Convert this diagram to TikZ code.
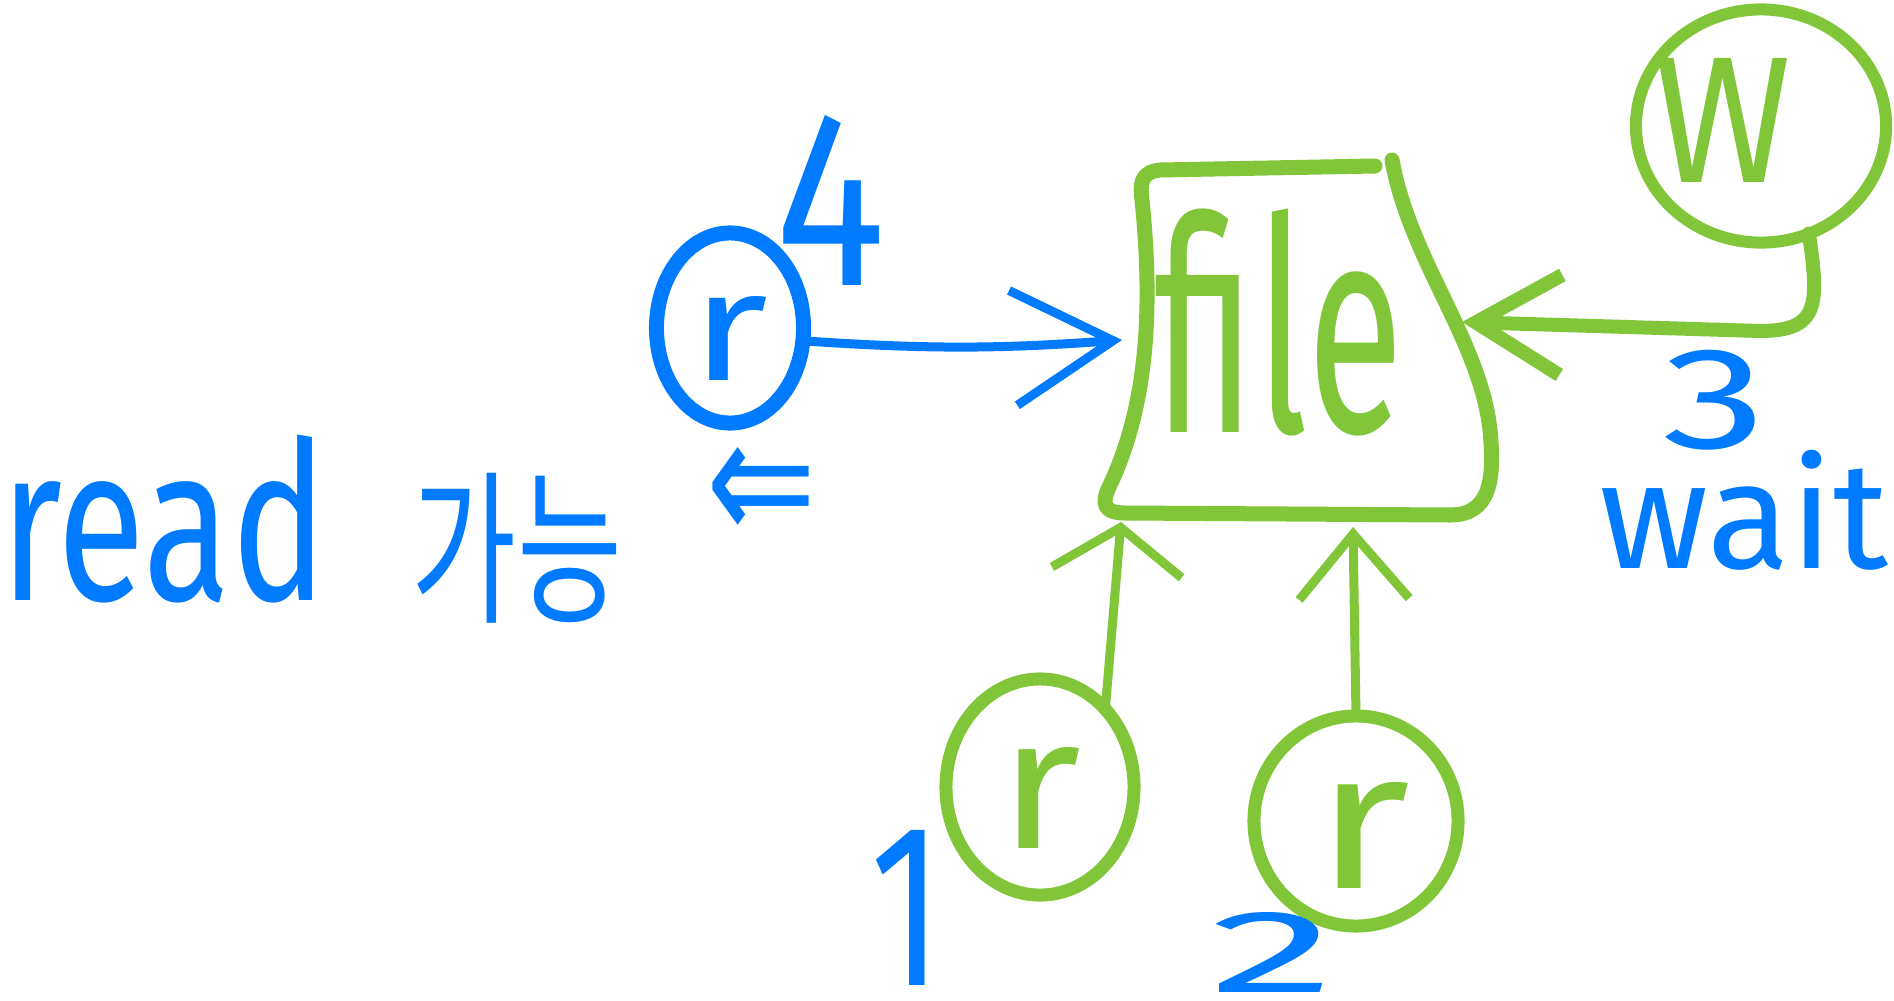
\documentclass[tikz,border=0pt]{standalone}
\usepackage{fontspec}
\setmainfont{Fira Sans}
\newfontfamily\krfont{Noto Sans CJK KR}
\newfontfamily\arrowfont{DejaVu Sans}
\usetikzlibrary{shapes.geometric,arrows.meta,calc}
\definecolor{pblue}{RGB}{0,123,255}
\definecolor{pgreen}{RGB}{128,198,56}
\newcommand\hw[3]{\resizebox*{#1}{#2}{#3}}
\begin{document}
\begin{tikzpicture}[x=0.01cm,y=-0.01cm,
  txt/.style={inner sep=0pt,outer sep=0pt},
  bluetxt/.style={txt,text=pblue},
  greentxt/.style={txt,text=pgreen},
  blob/.style={ellipse,inner sep=0pt,outer sep=0pt},
  bluering/.style={blob,draw=pblue,line width=1.5mm},
  greenring/.style={blob,draw=pgreen,line width=1.3mm},
  filebox/.style={draw=pgreen,line width=1.5mm,line cap=round,line join=round},
  barrow/.style={draw=pblue,line width=0.9mm,line cap=round,-{Straight Barb[length=1cm,width=1.15cm]}},
  garrowthick/.style={draw=pgreen,line width=1.4mm,line cap=round,-{Straight Barb[length=0.85cm,width=1cm]}},
  garrowa/.style={draw=pgreen,line width=0.9mm,line cap=round,-{Straight Barb[length=0.45cm,width=1.3cm]}},
  garrowb/.style={draw=pgreen,line width=0.9mm,line cap=round,-{Straight Barb[length=0.65cm,width=1.1cm]}}
]
\useasboundingbox (0,0) rectangle (1894,1000);

% left labels
\node[bluetxt,anchor=south west] (read) at (0,603) {\hw{3.27cm}{1.68cm}{read}};
\node[bluetxt] (kaneung) at (517,548) {\hw{2.1cm}{1.5cm}{\krfont 가능}};
\node[bluetxt] (larr) at (762,495) {\hw{1.1cm}{0.96cm}{\arrowfont ⇐}};

% blue r
\node[bluering,minimum width=1.47cm,minimum height=1.9cm] (rc) at (730,328) {};
\node[bluetxt] (rtxt) at (730,338) {\hw{0.78cm}{0.84cm}{r}};
\node[bluetxt] (four) at (831,200) {\hw{1.1cm}{1.7cm}{4}};

% file box
\draw[filebox] (1375,166) -- (1160,170) .. controls (1140,172) and (1140,185) .. (1142,200)
  .. controls (1152,300) and (1150,400) .. (1110,485)
  .. controls (1100,505) and (1105,513) .. (1125,513)
  -- (1450,515)
  .. controls (1490,515) and (1495,480) .. (1490,430)
  .. controls (1480,340) and (1410,260) .. (1392,160);
\node[greentxt] (file) at (1279,322) {\hw{2.48cm}{2.27cm}{file}};
\coordinate (fileL) at (1122,340);
\coordinate (fileR) at (1462,322);
\coordinate (fileBa) at (1121,522);
\coordinate (fileBb) at (1353,527);

% W
\node[blob,draw=pgreen,line width=1.2mm,minimum width=2.5cm,minimum height=2.33cm] (wc) at (1761,126) {};
\node[greentxt] (wtxt) at (1723,120) {\hw{1.37cm}{1.24cm}{W}};
\coordinate (wbend) at (1760,331);
\draw[garrowthick] (wc.-66) .. controls +(10,70) and +(60,0) .. (wbend) -- (fileR);
\node[bluetxt] (three) at (1715,400) {\hw{1.04cm}{1.0cm}{3}};
\node[bluetxt] (wait) at (1744,510) {\hw{2.88cm}{1.2cm}{wait}};

% bottom readers
\node[greenring,minimum width=1.88cm,minimum height=2.16cm] (ga) at (1040,787) {};
\node[greentxt] (gatxt) at (1040,798) {\hw{0.83cm}{1.01cm}{r}};
\node[greenring,minimum width=2.04cm,minimum height=2.1cm] (gb) at (1356,821) {};
\node[greentxt] (gbtxt) at (1363,835) {\hw{0.96cm}{1.06cm}{r}};
\node[bluetxt] (one) at (907,908) {\hw{0.73cm}{1.55cm}{1}};
\node[bluetxt] (two) at (1273,952) {\hw{1.26cm}{0.8cm}{2}};

% connectors
\draw[barrow] (rc.-10) to[bend right=4] (fileL);
\draw[garrowa] (ga.50) -- (fileBa);
\draw[garrowb] (gb.north) -- (fileBb);
\end{tikzpicture}
\end{document}
